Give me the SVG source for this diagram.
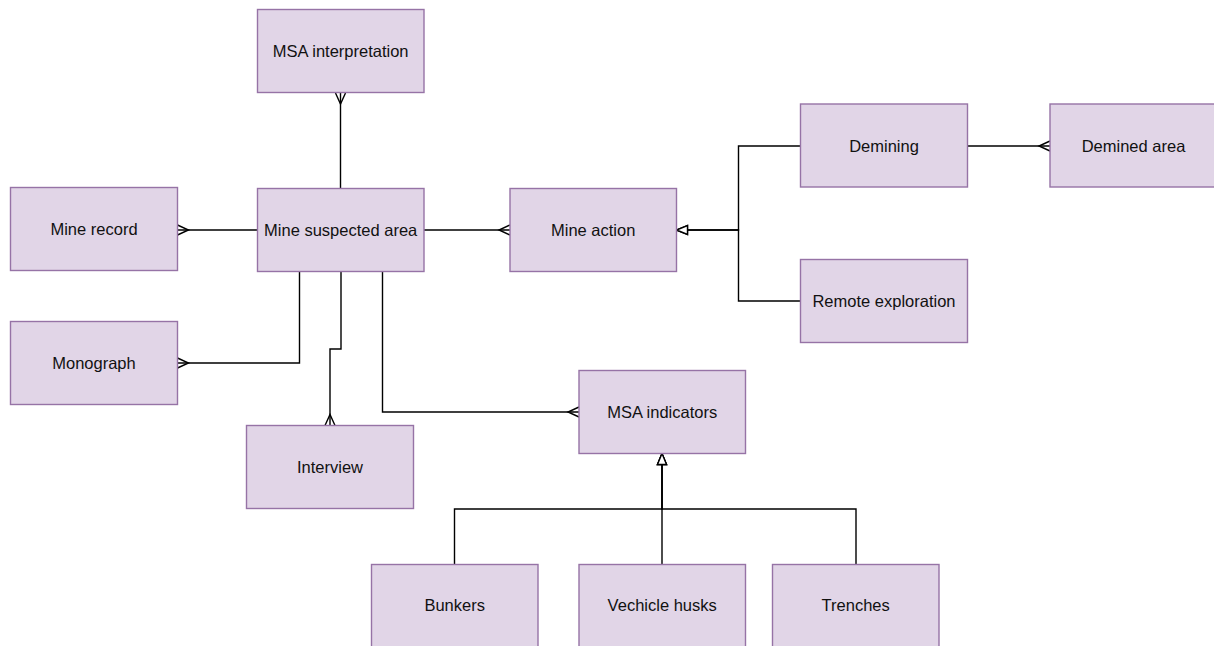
<svg xmlns="http://www.w3.org/2000/svg" width="1214" height="646" viewBox="0 0 1214 646">
<style>
.box{fill:#e1d5e7;stroke:#9673a6;stroke-width:1.4}
.lbl{font-family:"Liberation Sans",Arial,sans-serif;font-size:16.5px;fill:#111;text-anchor:middle}
.edge{fill:none;stroke:#000;stroke-width:1.4}
</style>
<defs>
<marker id="many" markerUnits="userSpaceOnUse" markerWidth="16" markerHeight="14" viewBox="-13 -7 16 14" refX="0" refY="0" orient="auto" overflow="visible">
<path d="M0,-5 L-11,0 L0,5" fill="none" stroke="#000" stroke-width="1.4"/>
</marker>
<marker id="inh" markerUnits="userSpaceOnUse" markerWidth="16" markerHeight="14" viewBox="-13 -7 16 14" refX="0" refY="0" orient="auto" overflow="visible">
<path d="M0,0 L-11,-4.5 L-11,4.5 Z" fill="#fff" stroke="#000" stroke-width="1.4"/>
</marker>
</defs>
<rect width="1214" height="646" fill="#fff"/>
<g id="connectors">
<path class="edge" d="M340.5,188.5 L340.5,93" marker-end="url(#many)"/>
<path class="edge" d="M257.5,230 L177.5,230" marker-end="url(#many)"/>
<path class="edge" d="M424,230 L510,230" marker-end="url(#many)"/>
<path class="edge" d="M299.5,271.5 L299.5,363 L177.5,363" marker-end="url(#many)"/>
<path class="edge" d="M341,271.5 L341,349 L330,349 L330,425.5" marker-end="url(#many)"/>
<path class="edge" d="M382.5,271.5 L382.5,412 L579,412" marker-end="url(#many)"/>
<path class="edge" d="M967.5,146 L1050,146" marker-end="url(#many)"/>
<path class="edge" d="M800.5,146 L738.5,146 L738.5,230 L676.5,230" marker-end="url(#inh)"/>
<path class="edge" d="M800.5,301 L738.5,301 L738.5,230 L676.5,230" marker-end="url(#inh)"/>
<path class="edge" d="M454.5,564 L454.5,509 L662,509 L662,453.5" marker-end="url(#inh)"/>
<path class="edge" d="M662,564 L662,453.5" marker-end="url(#inh)"/>
<path class="edge" d="M856,564 L856,509 L662,509 L662,453.5" marker-end="url(#inh)"/>
</g>
<g id="msa-interpretation"><rect class="box" x="257.5" y="9.5" width="166.5" height="83"/><text class="lbl" x="340.7" y="57">MSA interpretation</text></g>
<g id="mine-suspected-area"><rect class="box" x="257.5" y="188.5" width="166.5" height="83"/><text class="lbl" x="340.7" y="236">Mine suspected area</text></g>
<g id="mine-record"><rect class="box" x="10.5" y="187.5" width="167" height="83"/><text class="lbl" x="94" y="235">Mine record</text></g>
<g id="monograph"><rect class="box" x="10.5" y="321.5" width="167" height="83"/><text class="lbl" x="94" y="369">Monograph</text></g>
<g id="interview"><rect class="box" x="246.5" y="425.5" width="167" height="83"/><text class="lbl" x="330" y="473">Interview</text></g>
<g id="mine-action"><rect class="box" x="510" y="188.5" width="166.5" height="83"/><text class="lbl" x="593.2" y="236">Mine action</text></g>
<g id="demining"><rect class="box" x="800.5" y="104" width="167" height="83"/><text class="lbl" x="884" y="151.5">Demining</text></g>
<g id="demined-area"><rect class="box" x="1050" y="104" width="167" height="83"/><text class="lbl" x="1133.5" y="151.5">Demined area</text></g>
<g id="remote-exploration"><rect class="box" x="800.5" y="259.5" width="167" height="83"/><text class="lbl" x="884" y="306.5">Remote exploration</text></g>
<g id="msa-indicators"><rect class="box" x="579" y="370.5" width="166.5" height="83"/><text class="lbl" x="662.2" y="418">MSA indicators</text></g>
<g id="bunkers"><rect class="box" x="371.5" y="564.5" width="166.5" height="83"/><text class="lbl" x="454.7" y="611">Bunkers</text></g>
<g id="vechicle-husks"><rect class="box" x="579" y="564.5" width="166.5" height="83"/><text class="lbl" x="662.2" y="611">Vechicle husks</text></g>
<g id="trenches"><rect class="box" x="772.5" y="564.5" width="166.5" height="83"/><text class="lbl" x="855.7" y="611">Trenches</text></g>
</svg>
